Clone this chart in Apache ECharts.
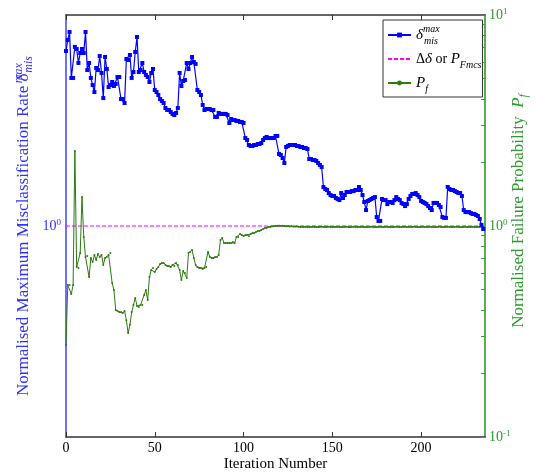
<!DOCTYPE html>
<html><head><meta charset="utf-8">
<script src="https://cdn.jsdelivr.net/npm/echarts@6/dist/echarts.min.js"></script>
<style>html,body{margin:0;padding:0;background:#fff}#c{width:536px;height:474px}</style>
</head><body><div id="c"></div>
<script>
// ---- data ----
const xTickLabels = [0, 50, 100, 150, 200];
const blueValues = [
2.598,2.760,2.882,2.243,2.243,2.657,2.627,2.434,2.570,2.627,
2.570,2.882,2.342,2.434,2.243,2.158,2.077,2.368,2.342,2.528,
2.305,2.010,2.515,2.355,2.135,2.158,2.194,2.147,2.170,2.255,
2.255,1.999,1.999,1.956,2.487,2.474,2.542,2.243,2.317,2.584,
2.805,2.317,2.342,2.434,2.317,2.280,2.255,2.194,2.305,2.355,
2.100,2.077,2.044,1.999,1.978,1.956,1.904,1.883,1.883,1.863,
1.843,1.832,1.853,1.904,2.305,2.147,2.206,2.218,2.434,2.355,
2.434,2.515,2.447,2.421,2.100,2.077,2.044,1.935,1.883,1.893,
1.893,1.893,1.883,1.883,1.813,1.813,1.853,1.843,1.843,1.843,
1.843,1.832,1.754,1.793,1.783,1.783,1.774,1.774,1.764,1.764,
1.754,1.616,1.599,1.556,1.547,1.547,1.556,1.556,1.564,1.564,
1.573,1.599,1.616,1.625,1.616,1.616,1.616,1.616,1.634,1.634,
1.481,1.473,1.449,1.410,1.539,1.547,1.556,1.556,1.556,1.556,
1.547,1.547,1.539,1.539,1.530,1.530,1.522,1.441,1.441,1.433,
1.433,1.426,1.410,1.395,1.380,1.237,1.224,1.217,1.197,1.184,
1.178,1.178,1.165,1.159,1.152,1.197,1.165,1.184,1.204,1.204,
1.204,1.210,1.210,1.217,1.217,1.237,1.217,1.184,1.140,1.091,
1.146,1.152,1.159,1.165,1.171,1.050,1.028,1.028,1.159,1.152,
1.152,1.127,1.140,1.140,1.134,1.152,1.171,1.159,1.152,1.134,
1.127,1.115,1.127,1.159,1.178,1.191,1.191,1.197,1.184,1.171,
1.146,1.140,1.134,1.127,1.115,1.103,1.091,1.134,1.134,1.134,
1.121,1.109,1.050,1.045,1.045,1.237,1.224,1.217,1.217,1.210,
1.204,1.197,1.197,1.178,1.091,1.079,1.079,1.079,1.073,1.068,
1.068,1.062,1.056,1.039,1.006,0.984];
const pfValues = [
0.273,0.525,0.525,0.476,0.525,2.268,0.639,0.632,0.745,1.372,
0.887,0.713,0.721,0.573,0.705,0.675,0.729,0.690,0.737,0.713,
0.729,0.654,0.705,0.713,0.729,0.745,0.537,0.497,0.400,0.396,
0.391,0.391,0.387,0.396,0.358,0.311,0.340,0.391,0.422,0.456,
0.418,0.413,0.422,0.422,0.471,0.497,0.446,0.573,0.619,0.632,
0.605,0.625,0.639,0.661,0.668,0.668,0.654,0.646,0.646,0.639,
0.654,0.646,0.668,0.654,0.619,0.555,0.612,0.599,0.567,0.745,
0.753,0.770,0.705,0.654,0.639,0.632,0.632,0.625,0.632,0.639,
0.753,0.713,0.705,0.705,0.713,0.713,0.729,0.858,0.877,0.831,
0.831,0.831,0.831,0.831,0.840,0.831,0.887,0.887,0.916,0.906,
0.897,0.906,0.906,0.897,0.916,0.927,0.927,0.937,0.947,0.947,
0.957,0.968,0.978,0.978,0.989,0.989,0.995,1.000,1.000,1.003,
1.003,1.000,1.003,1.000,0.998,1.000,0.995,0.998,0.995,0.993,
0.995,0.993,0.990,0.993,0.990,0.993,0.990,0.988,0.990,0.993,
0.990,0.988,0.990,0.990,0.993,0.990,0.988,0.990,0.993,0.990,
0.990,0.988,0.990,0.993,0.990,0.988,0.990,0.990,0.993,0.990,
0.988,0.990,0.993,0.990,0.990,0.988,0.990,0.993,0.990,0.988,
0.990,0.990,0.993,0.990,0.988,0.990,0.990,0.993,0.990,0.988,
0.990,0.993,0.990,0.990,0.988,0.990,0.993,0.990,0.990,0.988,
0.990,0.993,0.990,0.988,0.990,0.990,0.993,0.990,0.988,0.990,
0.990,0.993,0.990,0.988,0.990,0.993,0.990,0.990,0.988,0.990,
0.993,0.990,0.990,0.988,0.990,0.993,0.990,0.988,0.990,0.990,
0.993,0.990,0.988,0.990,0.990,0.993,0.990,0.988,0.990,0.993,
0.990,0.990,0.988,0.990,0.993,0.990];
const refValue = 1;
const leftLabelValues = [1];
const rightLabelValues = [0.1, 1, 10];
const rightTickValues = [0.1,0.2,0.3,0.4,0.5,0.6,0.7,0.8,0.9,1,2,3,4,5,6,7,8,9,10];

// ---- build ----
const iterations = blueValues.map((_, i) => i);
const FONT = "'Liberation Serif','Times New Roman',serif";
const BLUE = '#0000ff', GREEN = '#2e7a10', MAG = '#ff00ff';
const powFmt = v => '10{e|' + Math.round(Math.log10(v)) + '}';
const powRich = c => ({ e: { fontSize: 9, fontFamily: FONT, color: c, verticalAlign: 'top', lineHeight: 8 } });
const nameRich = (c, fs) => ({
  i: { fontSize: fs, fontFamily: FONT, fontStyle: 'italic', color: c, lineHeight: 22 },
  sup: { fontSize: Math.round(fs * 0.68), fontFamily: FONT, fontStyle: 'italic', color: c, verticalAlign: 'top', lineHeight: 9, width: 1 },
  sub: { fontSize: Math.round(fs * 0.68), fontFamily: FONT, fontStyle: 'italic', color: c, verticalAlign: 'bottom', lineHeight: 9 }
});
const legendLabels = {
  delta: '{i|δ}{sup|max}{sub|mis}',
  ref: 'Δ{i|δ} or {i|P}{sub|Fmcs}',
  pf: '{i|P}{sub|f}'
};

const chart = echarts.init(document.getElementById('c'));
chart.setOption({
  animation: false,
  backgroundColor: '#fff',
  grid: { left: 66, right: 51, top: 15, bottom: 37, containLabel: false, outerBoundsMode: 'none' },
  legend: {
    orient: 'vertical', left: 383, top: 20,
    backgroundColor: '#fff', borderColor: '#333', borderWidth: 1, borderRadius: 0,
    padding: [4, 1, 3, 4], itemGap: 2, itemWidth: 23, itemHeight: 6,
    data: [
      { name: 'delta' },
      { name: 'ref', itemStyle: { opacity: 0 } },
      { name: 'pf' }
    ],
    formatter: n => legendLabels[n],
    textStyle: { fontFamily: FONT, fontSize: 14, color: '#000', lineHeight: 20, rich: nameRich('#000', 15) }
  },
  xAxis: [{
    type: 'value', min: 0, max: 236, interval: 50, position: 'bottom',
    axisLine: { onZero: false, lineStyle: { color: '#333', width: 1.5 } },
    axisTick: { inside: true, length: 5, lineStyle: { color: '#333' }, customValues: xTickLabels },
    axisLabel: { customValues: xTickLabels, color: '#000', fontFamily: FONT, fontSize: 14, margin: 4 },
    splitLine: { show: false },
    name: 'Iteration Number', nameLocation: 'middle', nameGap: 20, nameMoveOverlap: false,
    nameTextStyle: { fontFamily: FONT, fontSize: 15, color: '#000' }
  }, {
    type: 'value', min: 0, max: 236, interval: 50, position: 'top',
    axisLine: { onZero: false, lineStyle: { color: '#333', width: 1.5 } },
    axisTick: { inside: true, length: 5, lineStyle: { color: '#333' }, customValues: xTickLabels },
    axisLabel: { show: false }, splitLine: { show: false }
  }],
  yAxis: [{
    type: 'log', logBase: 10, min: 0.3162278, max: 3.162278, position: 'left',
    axisLine: { show: true, onZero: false, lineStyle: { color: '#7070ff', width: 2 } },
    axisTick: { show: false },
    axisLabel: { customValues: leftLabelValues, formatter: powFmt, color: '#3030ff', fontFamily: FONT, fontSize: 14, lineHeight: 16, margin: 5, rich: powRich('#3030ff') },
    splitLine: { show: false },
    name: 'Normalised Maximum Misclassification Rate {i|δ}{sup|max}{sub|mis}',
    nameLocation: 'middle', nameRotate: 90, nameGap: 31, nameMoveOverlap: false,
    nameTextStyle: { fontFamily: FONT, fontSize: 17, color: '#3030ff', lineHeight: 22, rich: nameRich('#3030ff', 17) }
  }, {
    type: 'log', logBase: 10, min: 0.1, max: 10, position: 'right',
    axisLine: { show: true, onZero: false, lineStyle: { color: '#55b050', width: 2 } },
    axisTick: { inside: true, length: 4, customValues: rightTickValues, lineStyle: { color: '#3f9a3a' } },
    axisLabel: { customValues: rightLabelValues, formatter: powFmt, color: '#2e9a2e', fontFamily: FONT, fontSize: 14, lineHeight: 16, margin: 4, rich: powRich('#2e9a2e') },
    splitLine: { show: false },
    name: 'Normalised Failure Probability  {i|P}{sub|f}',
    nameLocation: 'middle', nameRotate: 90, nameGap: 23, nameMoveOverlap: false,
    nameTextStyle: { fontFamily: FONT, fontSize: 17, color: '#2e9a2e', lineHeight: 22, rich: nameRich('#2e9a2e', 17), padding: [0, 0, 0, 30] }
  }],
  series: [{
    name: 'delta', type: 'line', xAxisIndex: 0, yAxisIndex: 0, z: 4,
    data: iterations.map(i => [i, blueValues[i]]),
    color: BLUE, lineStyle: { width: 1.2, color: BLUE },
    symbol: 'rect', symbolSize: 4, showAllSymbol: true, itemStyle: { color: BLUE }
  }, {
    name: 'ref', type: 'line', xAxisIndex: 0, yAxisIndex: 0, z: 2,
    data: iterations.map(i => [i, refValue]),
    color: MAG, lineStyle: { width: 1.2, type: [4, 2], color: MAG },
    symbol: 'none', itemStyle: { color: MAG }
  }, {
    name: 'pf', type: 'line', xAxisIndex: 0, yAxisIndex: 1, z: 3,
    data: iterations.map(i => [i, pfValues[i]]),
    color: GREEN, lineStyle: { width: 1, color: GREEN },
    symbol: 'circle', symbolSize: 2, showAllSymbol: true, itemStyle: { color: GREEN }
  }]
});
</script></body></html>
